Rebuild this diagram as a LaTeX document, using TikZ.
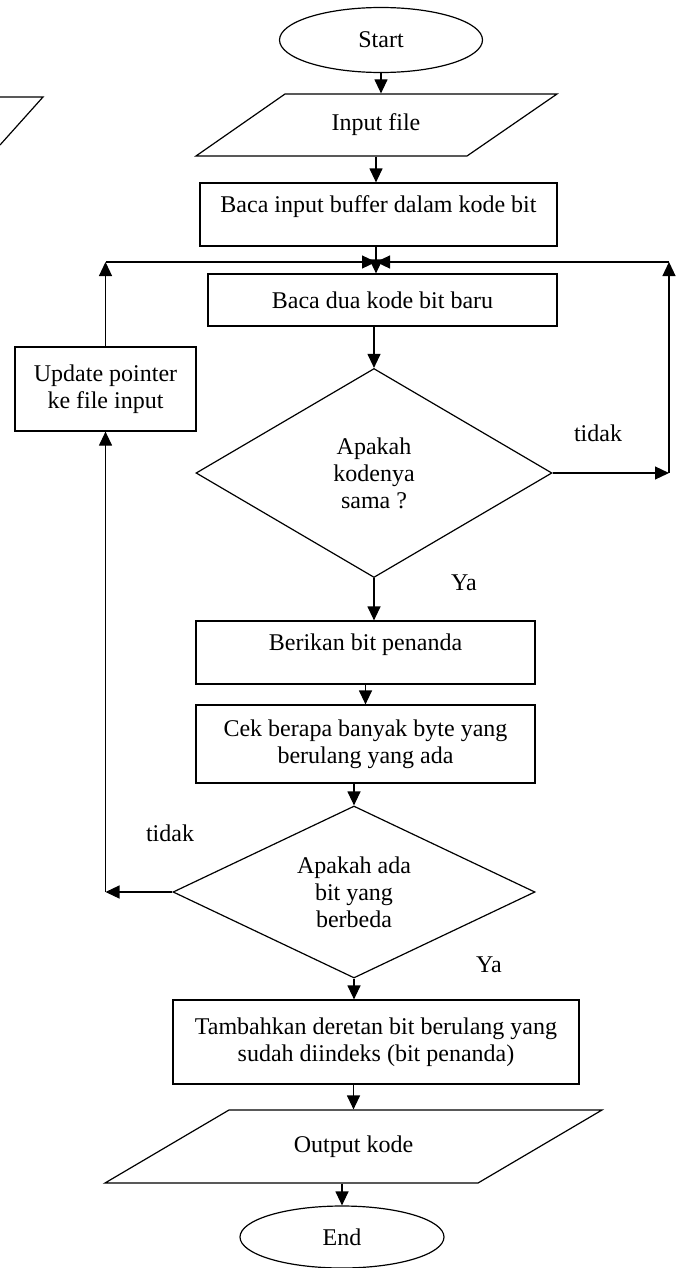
\documentclass[tikz,border=0pt]{standalone}
\usepackage{fontspec}
\setmainfont{Liberation Serif}
\usetikzlibrary{arrows.meta,calc,shapes.geometric}

\begin{document}
\begin{tikzpicture}[x=0.5pt,y=-0.5pt,line width=0.6pt,
  font=\fontsize{12pt}{13.5pt}\selectfont,
  >={Triangle[length=7pt,width=6.5pt]},
  term/.style={draw,ellipse,inner sep=0pt},
  proc/.style={draw,rectangle,align=center,inner sep=0pt},
  upper/.style={text depth=10pt},
  decide/.style={draw,diamond,aspect=2,align=center,inner sep=0pt},
  io/.style={inner sep=0pt,align=center}]
\useasboundingbox (0,0) rectangle (675,1268);

\node[term,minimum width=101.5pt,minimum height=32.5pt] (start) at (381,40) {Start};
\node[io,minimum height=31pt] (input) at (376,125) {Input file};
\node[proc,upper,minimum width=178.5pt,minimum height=31.5pt] (buf) at (378.5,214.5) {Baca input buffer dalam kode bit};
\node[proc,minimum width=174.5pt,minimum height=26pt] (baru) at (382.5,300) {Baca dua kode bit baru};
\node[proc,minimum width=90.5pt,minimum height=42pt] (upd) at (105.5,389) {Update pointer\\ke file input};
\node[decide,minimum width=178pt,minimum height=104.5pt] (d1) at (374,473) {Apakah\\kodenya\\sama ?};
\node[proc,upper,minimum width=169.5pt,minimum height=31.5pt] (ber) at (365.5,652.5) {Berikan bit penanda};
\node[proc,minimum width=169.5pt,minimum height=39pt] (cek) at (365.5,744) {Cek berapa banyak byte yang\\berulang yang ada};
\node[decide,minimum width=181pt,minimum height=86pt] (d2) at (354,892) {Apakah ada\\bit yang\\berbeda};
\node[proc,minimum width=203pt,minimum height=42pt] (tam) at (376,1042) {Tambahkan deretan bit berulang yang\\sudah diindeks (bit penanda)};
\node[io,minimum height=36.5pt] (out) at (353.5,1146.5) {Output kode};
\node[term,minimum width=102pt,minimum height=31pt] (end) at (342,1237) {End};

% input / output shapes
\draw (285,94) -- (557,94) -- (467,156) -- (196,156) -- cycle;
\draw (229,1110) -- (602,1110) -- (478,1183) -- (105,1183) -- cycle;
\draw (0,97) -- (43,97) -- (0,145);

\coordinate (mrg) at (376,262);
\coordinate (lt) at (105.5,262);
\coordinate (lb) at (105.5,892);
\coordinate (rt) at (669,262);
\coordinate (rb) at (669,473);

\path[->] (start.south)          edge (start.south |- input.north)
(input.south)                    edge (input.south |- buf.north)
(mrg |- buf.south)               edge (mrg |- baru.north)
(lt)                             edge (mrg)
(rt)                             edge (mrg)
(baru.south -| d1.north)         edge (d1.north)
(d1.east)                        edge (rb)
(rb)                             edge (rt)
(upd.north)                      edge (lt)
(d1.south)                       edge (d1.south |- ber.north)
(ber.south)                      edge (cek.north)
(d2.north |- cek.south)          edge (d2.north)
(d2.west)                        edge (lb)
(lb)                             edge (upd.south)
(d2.south)                       edge (d2.south |- tam.north)
(out.north |- tam.south)         edge (out.north)
(end.north |- out.south)         edge (end.north);

\foreach \nm/\pos/\txt in {tidak1/{598,433}/tidak,ya1/{464,583}/Ya,tidak2/{170,833}/tidak,ya2/{489,965}/Ya} {\node (\nm) at (\pos) {\txt};};
\end{tikzpicture}
\end{document}
